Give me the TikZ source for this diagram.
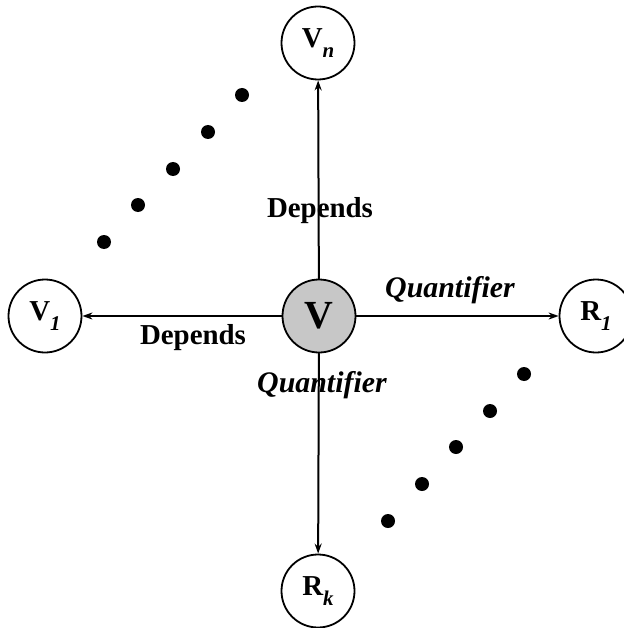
\documentclass[tikz,border=0pt]{standalone}
\usepackage{fontspec}
\setmainfont{Liberation Serif}
\usetikzlibrary{arrows.meta}
\newcommand{\lowsub}[1]{\raisebox{-0.36em}{\fontsize{21}{21}\selectfont\itshape #1}}
\begin{document}
\begin{tikzpicture}[x=1bp, y=-1bp, line join=round, line cap=round,
  every node/.style={font=\fontsize{29}{34}\selectfont\bfseries},
  vert/.style={draw, circle, line width=1.8bp, minimum size=73bp, inner sep=0pt},
  link/.style={-{Stealth[length=10bp, width=7bp]}, line width=2bp},
  dot/.style={fill, circle, minimum size=14bp, inner sep=0pt}]

	\useasboundingbox (0,0) rectangle (624,628);

	% the variable and its neighbours
	\node[vert, fill=black!22, font=\fontsize{40}{44}\selectfont\bfseries] (v) at (319,316) {V};
	\node[vert] (vn) at (318,43) {V\lowsub{n}};
	\node[vert] (v1) at (45,316) {V\lowsub{1}};
	\node[vert] (r1) at (596,316) {R\lowsub{1}};
	\node[vert] (rk) at (318,591) {R\lowsub{k}};

	\draw[link] (v) -- (vn);
	\draw[link] (v) -- (v1);
	\draw[link] (v) -- (r1);
	\draw[link] (v) -- (rk);

	\node (dup) at (320,211) {Depends};
	\node (dleft) at (193,338) {Depends};
	\node[font=\fontsize{30}{34}\selectfont\bfseries\itshape] (qright) at (450,290) {Quantifier};
	\node[font=\fontsize{30}{34}\selectfont\bfseries\itshape] (qdown) at (322,385) {Quantifier};

	% dots between the neighbours
	\foreach \i/\x/\y in {1/104/242, 2/138/205, 3/173/169, 4/208/132, 5/242/95}
		\node[dot] (a\i) at (\x,\y) {};
	\foreach \i/\x/\y in {1/388/521, 2/422/484, 3/456/447, 4/490/411, 5/524/374}
		\node[dot] (b\i) at (\x,\y) {};

\end{tikzpicture}
\end{document}
